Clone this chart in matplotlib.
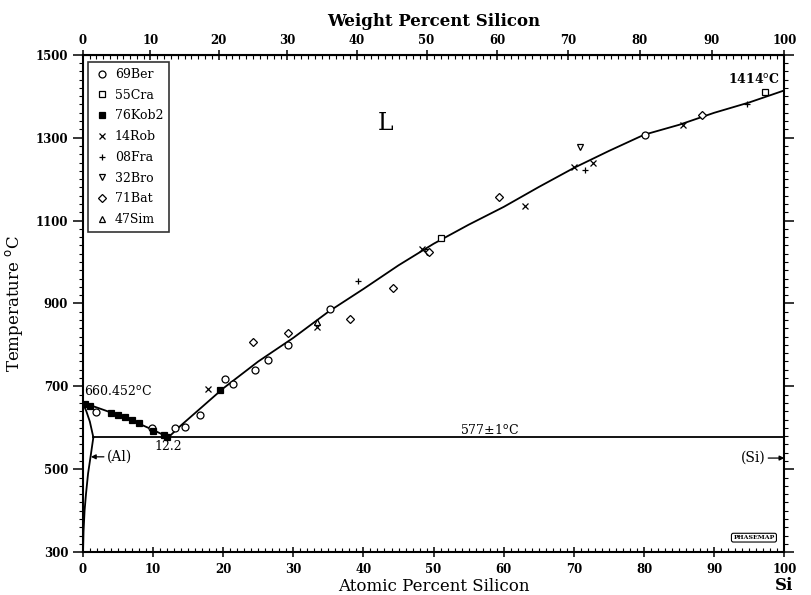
import numpy as np
import matplotlib
matplotlib.use('Agg')
import matplotlib.pyplot as plt
from matplotlib.ticker import MultipleLocator, FixedLocator

# ---------------- data (atomic % Si, deg C) ----------------
liq_al_x = [0.0, 2.0, 4.0, 6.0, 8.0, 10.0, 12.2]
liq_al_t = [660.452, 649, 637, 624, 610, 595, 577]

liq_si_x = [12.2, 14, 16.5, 20, 25, 30, 35, 40, 45, 50, 55, 60, 65, 70, 75, 80, 85, 90, 95, 100]
liq_si_t = [577, 606, 643, 695, 760, 817, 880, 935, 992, 1044, 1090, 1133, 1181, 1227, 1268, 1307, 1331, 1360, 1385, 1414]

solidus_x = [0.0, 0.5, 1.0, 1.5]
solidus_t = [660.452, 640, 615, 577]
solvus_x = [1.5, 1.1, 0.75, 0.45, 0.25, 0.1, 0.03]
solvus_t = [577, 530, 490, 440, 400, 350, 300]

eut_x = [1.5, 100]
eut_t = [577, 577]

x_ticks = [0, 10, 20, 30, 40, 50, 60, 70, 80, 90, 100]
y_ticks = [300, 500, 700, 900, 1100, 1300, 1500]

# experimental points
ber_x = [1.9, 9.9, 13.2, 14.6, 16.7, 20.2, 21.4, 24.5, 26.4, 29.3, 35.2, 80.2]
ber_t = [639, 600, 600, 602, 631, 718, 706, 740, 764, 800, 886, 1307]
cra_x = [51.0, 97.3]
cra_t = [1059, 1409]
kob_x = [0.3, 1.0, 4.0, 5.0, 6.0, 7.0, 8.0, 10.0, 11.5, 12.0, 19.5]
kob_t = [658, 653, 636, 632, 627, 620, 612, 593, 582, 578, 691]
rob_x = [17.8, 33.4, 48.3, 63.0, 70.0, 72.7, 85.5]
rob_t = [693, 844, 1031, 1136, 1228, 1240, 1331]
fra_x = [39.2, 71.6, 94.6]
fra_t = [955, 1223, 1382]
bro_x = [49.1, 70.9]
bro_t = [1023, 1277]
bat_x = [24.2, 29.2, 38.1, 44.2, 49.3, 59.3, 88.3]
bat_t = [806, 828, 863, 937, 1025, 1158, 1355]
sim_x = [33.4]
sim_t = [856]


def at_to_wt(a):
    a = np.asarray(a, dtype=float)
    return 100 * a * 28.0855 / (a * 28.0855 + (100 - a) * 26.9815)


def wt_to_at(w):
    w = np.asarray(w, dtype=float)
    return 100 * (w / 28.0855) / (w / 28.0855 + (100 - w) / 26.9815)


plt.rcParams['font.family'] = 'DejaVu Serif'

fig = plt.figure(figsize=(8.12, 5.95), dpi=100)
ax = fig.add_axes([0.102, 0.072, 0.864, 0.836])

lw = 1.3
ax.plot(liq_al_x, liq_al_t, color='k', lw=lw)
ax.plot(liq_si_x, liq_si_t, color='k', lw=lw)
ax.plot(solidus_x, solidus_t, color='k', lw=lw)
ax.plot(solvus_x, solvus_t, color='k', lw=lw)
ax.plot(eut_x, eut_t, color='k', lw=lw)

mk = dict(linestyle='none', color='k', markersize=5, markeredgewidth=0.9)
ax.plot(ber_x, ber_t, marker='o', mfc='white', label='69Ber', **mk)
ax.plot(cra_x, cra_t, marker='s', mfc='white', label='55Cra', **mk)
ax.plot(kob_x, kob_t, marker='s', mfc='k', label='76Kob2', **mk)
ax.plot(rob_x, rob_t, marker='x', label='14Rob', **mk)
ax.plot(fra_x, fra_t, marker='+', label='08Fra', **mk)
ax.plot(bro_x, bro_t, marker='v', mfc='white', label='32Bro', **mk)
ax.plot(bat_x, bat_t, marker='D', mfc='white', label='71Bat', linestyle='none',
        color='k', markersize=4, markeredgewidth=0.9)
ax.plot(sim_x, sim_t, marker='^', mfc='white', label='47Sim', **mk)

leg = ax.legend(loc='upper left', bbox_to_anchor=(0.008, 0.986), fontsize=9,
                frameon=True, fancybox=False, edgecolor='k', handlelength=1.1,
                handletextpad=0.5, labelspacing=0.62, borderpad=0.5, borderaxespad=0)
leg.get_frame().set_linewidth(1.2)

# labels inside the diagram
ax.text(43.2, 1335, 'L', fontsize=17, ha='center', va='center')
ax.text(0.2, 672, r'660.452$^{\rm o}$C', fontsize=9, ha='left', va='bottom')
ax.text(12.2, 570, '12.2', fontsize=9, ha='center', va='top')
ax.text(58, 579, r'577$\pm$1$^{\rm o}$C', fontsize=9, ha='center', va='bottom')
ax.text(99.3, 1425, r'1414$^{\rm o}$C', fontsize=9, ha='right', va='bottom', fontweight='bold')
ax.annotate('(Al)', xy=(1.15, 530), xytext=(3.4, 530), fontsize=10, va='center', ha='left',
            arrowprops=dict(arrowstyle='-|>', color='k', lw=0.9, shrinkA=0, shrinkB=0,
                            mutation_scale=7))
ax.annotate('(Si)', xy=(100, 527), xytext=(97.3, 527), fontsize=10, va='center', ha='right',
            arrowprops=dict(arrowstyle='-|>', color='k', lw=0.9, shrinkA=0, shrinkB=0,
                            mutation_scale=7))
ax.text(98.6, 335, 'PHASEMAP', fontsize=4.5, fontweight='bold', ha='right', va='center',
        bbox=dict(boxstyle='round,pad=0.3', fc='white', ec='k', lw=0.8))

# axes
ax.set_xlim(0, 100)
ax.set_ylim(300, 1500)
ax.xaxis.set_major_locator(FixedLocator(x_ticks))
ax.xaxis.set_minor_locator(MultipleLocator(1))
ax.yaxis.set_major_locator(FixedLocator(y_ticks))
ax.yaxis.set_minor_locator(MultipleLocator(20))
ax.tick_params(axis='x', which='major', direction='inout', length=7, width=1.1, labelsize=8.5, pad=4)
ax.tick_params(axis='x', which='minor', direction='in', length=3, width=0.8)
ax.tick_params(axis='y', which='major', direction='out', length=7, width=1.1, labelsize=8.5,
               right=True, left=True)
ax.tick_params(axis='y', which='minor', direction='out', length=3, width=0.8, right=True, left=True)
for lab in ax.get_xticklabels() + ax.get_yticklabels():
    lab.set_fontweight('bold')
for s in ax.spines.values():
    s.set_linewidth(1.5)
ax.xaxis.get_offset_text().set_visible(False)
ax.yaxis.get_offset_text().set_visible(False)

ax.set_xlabel('Atomic Percent Silicon', fontsize=12, labelpad=2)
ax.set_ylabel(r'Temperature $^{\rm o}$C', fontsize=12, labelpad=8)
ax.text(1.5, -0.05, 'Al', transform=ax.transAxes, fontsize=12, fontweight='bold',
        ha='center', va='top')
ax.text(1.0, -0.05, 'Si', transform=ax.transAxes, fontsize=12, fontweight='bold',
        ha='center', va='top')

top = ax.secondary_xaxis('top', functions=(at_to_wt, wt_to_at))
top.xaxis.set_major_locator(FixedLocator(x_ticks))
top.xaxis.set_minor_locator(MultipleLocator(1))
top.tick_params(which='major', direction='inout', length=7, width=1.1, labelsize=8.5, pad=2)
top.tick_params(which='minor', direction='in', length=3, width=0.8)
for lab in top.get_xticklabels():
    lab.set_fontweight('bold')
top.xaxis.get_offset_text().set_visible(False)
top.set_xlabel('Weight Percent Silicon', fontsize=12, fontweight='bold', labelpad=6)

fig.savefig('out.png', dpi=100)
